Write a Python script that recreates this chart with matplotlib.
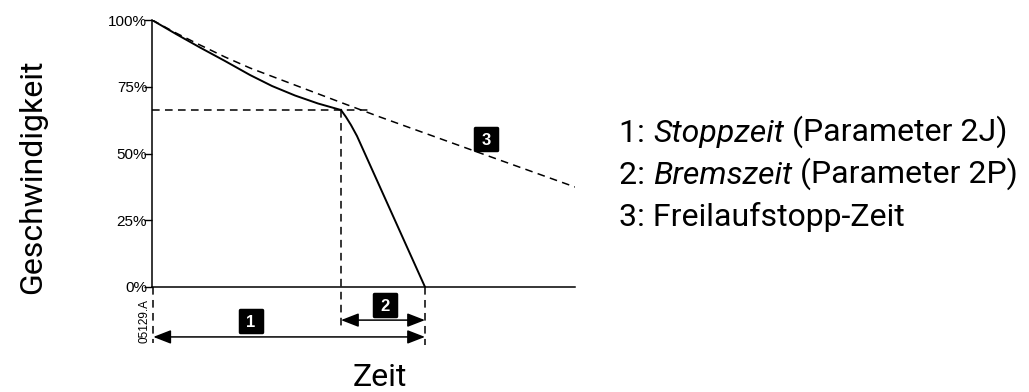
import matplotlib
matplotlib.use("Agg")
import matplotlib.pyplot as plt
from matplotlib.markers import MarkerStyle

# ---- data (time in % of axis span, speed in %) ----
coast_t = [0, 5.67, 11.35, 17.26, 23.17, 34.99, 45.63, 53.90, 77.54, 100]
coast_v = [100, 95.13, 90.64, 86.14, 82.02, 74.91, 68.54, 63.67, 50.19, 37.45]

stop_t = [0, 5.67, 11.35, 17.26, 23.17, 28.37, 33.81, 39.24, 44.68]
stop_v = [100, 94.76, 89.70, 84.64, 79.40, 75.28, 71.72, 68.73, 66.29]

brake_t = [44.68, 45.86, 47.04, 48.46, 64.54]
brake_v = [66.29, 63.67, 60.67, 56.55, 0]

stop_point_t = 44.68
stop_point_v = 66.29
brake_end_t = 64.54

ytick_vals = [0, 25, 50, 75, 100]
ytick_labels = ["0%", "25%", "50%", "75%", "100%"]

legend_lines = [
    ("1: ", "Stoppzeit", " (Parameter 2J)"),
    ("2: ", "Bremszeit", " (Parameter 2P)"),
    ("3: Freilaufstopp-Zeit", "", ""),
]

W, H = 1029, 392
fig = plt.figure(figsize=(W / 100, H / 100), dpi=100)
ax = fig.add_axes([152 / W, (H - 287) / H, 423 / W, 267 / H])
ax.set_xlim(0, 100)
ax.set_ylim(0, 100)

for s in ["top", "right"]:
    ax.spines[s].set_visible(False)
for s in ["left", "bottom"]:
    ax.spines[s].set_linewidth(1.1)

ax.set_xticks([])
ax.set_yticks(ytick_vals)
ax.set_yticklabels(ytick_labels, fontfamily="Liberation Sans", fontsize=11)
ax.tick_params(axis="y", length=6, width=1.0, pad=-2.5, direction="out")

dash = (0, (5, 3.5))
lc = "black"

# curves
ax.plot(coast_t, coast_v, color=lc, lw=1.1, linestyle=dash)
ax.plot(stop_t, stop_v, color=lc, lw=1.4, solid_joinstyle="round")
ax.plot(brake_t, brake_v, color=lc, lw=1.4, solid_joinstyle="round")

# helper dashed lines
ax.plot([0, 52], [stop_point_v, stop_point_v], color=lc, lw=1.1, linestyle=dash)
ax.plot([stop_point_t, stop_point_t], [stop_point_v, -15.4], color=lc, lw=1.1,
        linestyle=dash, clip_on=False)
ax.plot([brake_end_t, brake_end_t], [0, -21.7], color=lc, lw=1.1,
        linestyle=dash, clip_on=False)
ax.plot([0.3, 0.3], [0, -21.0], color=lc, lw=1.1, linestyle=dash, clip_on=False)

# arrows
arr = dict(arrowstyle="<|-|>,head_length=0.9,head_width=0.35", color=lc, lw=1.1,
           shrinkA=0, shrinkB=0, mutation_scale=12)
ax.annotate("", xy=(0.3, -18.7), xytext=(brake_end_t, -18.7),
            arrowprops=arr, annotation_clip=False)
ax.annotate("", xy=(stop_point_t, -12.4), xytext=(brake_end_t, -12.4),
            arrowprops=arr, annotation_clip=False)

# numbered boxes
boxes = [("1", 23.4, -12.9), ("2", 55.0, -6.9), ("3", 79.0, 55.6)]
mk = MarkerStyle("s", joinstyle="round")
for lab, bx, by in boxes:
    ax.plot([bx], [by], marker=mk, markersize=15.5, markerfacecolor="black",
            markeredgecolor="black", markeredgewidth=2.5, clip_on=False)
    ax.text(bx, by, lab, color="white", fontsize=12, fontweight="bold",
            fontfamily="Liberation Sans", ha="center", va="center_baseline",
            clip_on=False)

# reference code
fig.text(145 / W, 1 - 321 / H, "05129.A", rotation=90, fontsize=8.5,
         fontfamily="Liberation Sans", ha="center", va="center")

# axis titles
main_font = "Roboto"
fs = 23
fig.text(33 / W, 1 - 177 / H, "Geschwindigkeit", rotation=90, fontsize=fs,
         fontfamily=main_font, ha="center", va="center")
fig.text(380 / W, 1 - 386 / H, "Zeit", fontsize=fs, fontfamily=main_font,
         ha="center", va="baseline")

# legend text
baselines = [142, 184, 226]
for (a, b, c), yb in zip(legend_lines, baselines):
    t = fig.text(619 / W, 1 - yb / H, a, fontsize=fs, fontfamily=main_font,
                 ha="left", va="baseline")
    if b:
        t2 = ax.annotate(b, xy=(1, 0), xycoords=t, fontsize=fs, fontstyle="italic",
                         fontfamily=main_font, ha="left", va="bottom",
                         annotation_clip=False)
        ax.annotate(c, xy=(1, 0), xycoords=t2, fontsize=fs, fontfamily=main_font,
                    ha="left", va="bottom", annotation_clip=False)

fig.savefig("out.png", dpi=100)
